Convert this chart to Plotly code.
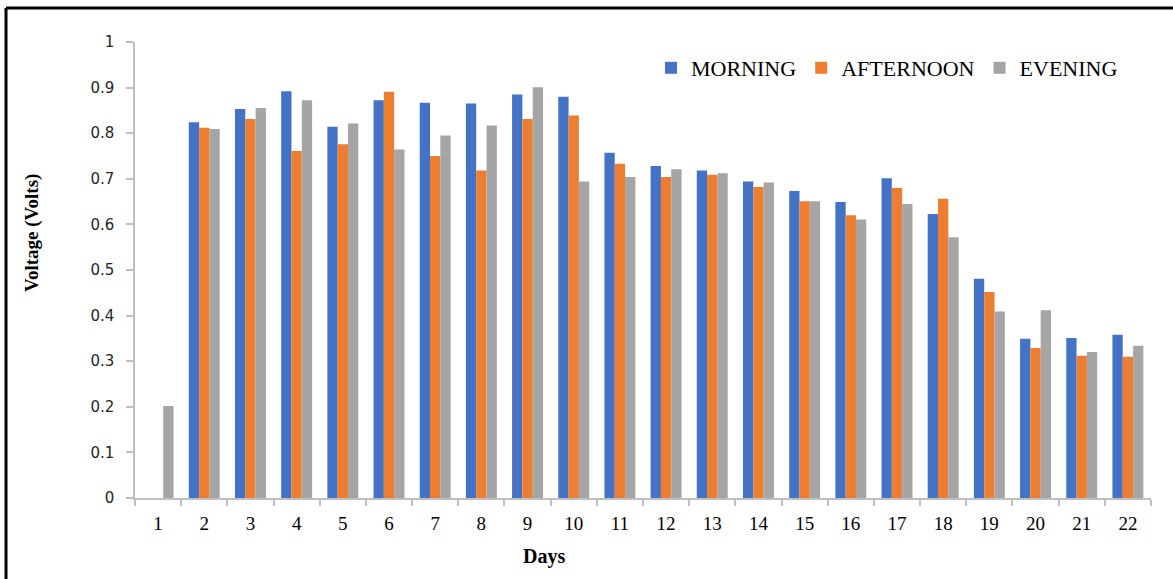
import plotly.graph_objects as go

# Daily output voltage readings, three times per day
days = [str(d) for d in range(1, 23)]
morning = [0, 0.824, 0.853, 0.892, 0.814, 0.872, 0.867, 0.865, 0.885, 0.880, 0.757,
           0.728, 0.718, 0.694, 0.673, 0.649, 0.701, 0.623, 0.481, 0.349, 0.351, 0.358]
afternoon = [0, 0.812, 0.831, 0.761, 0.776, 0.891, 0.750, 0.718, 0.831, 0.839, 0.733,
             0.704, 0.709, 0.682, 0.651, 0.620, 0.680, 0.656, 0.452, 0.329, 0.312, 0.310]
evening = [0.202, 0.809, 0.855, 0.872, 0.821, 0.764, 0.795, 0.817, 0.901, 0.694, 0.704,
           0.721, 0.712, 0.692, 0.651, 0.611, 0.645, 0.572, 0.409, 0.412, 0.320, 0.334]

series = [
    ("MORNING", morning, "#4472C4"),
    ("AFTERNOON", afternoon, "#ED7D31"),
    ("EVENING", evening, "#A5A5A5"),
]

SERIF = "'Liberation Serif', 'Times New Roman', Times, serif"
SANS = "'DejaVu Sans', Verdana, sans-serif"

W, H = 1173, 579
ML, MR, MT, MB = 135, 22, 42, 81
pw, ph = W - ML - MR, H - MT - MB

fig = go.Figure()
for name, vals, col in series:
    fig.add_trace(go.Bar(x=days, y=vals, name=name, marker_color=col,
                         marker_line_width=0))

axis_col = "#BFBFBF"
fig.update_layout(
    width=W, height=H,
    margin=dict(l=ML, r=MR, t=MT, b=MB),
    paper_bgcolor="white", plot_bgcolor="white",
    barmode="group", bargap=0.33, bargroupgap=0,
    showlegend=True,
    legend=dict(orientation="h", x=(651 - ML) / pw, xanchor="left",
                y=(MT + ph - 68) / ph, yanchor="middle",
                font=dict(family=SERIF, size=22, color="#000000"),
                bgcolor="rgba(0,0,0,0)", traceorder="normal"),
    font=dict(family=SERIF, color="#000000"),
)
fig.update_xaxes(
    type="category", showline=True, linecolor=axis_col, linewidth=1.5,
    ticks="outside", tickson="boundaries", ticklen=6, tickcolor=axis_col,
    tickwidth=1.5, showgrid=False, zeroline=False,
    tickfont=dict(family=SERIF, size=19, color="#000000"),
    ticklabelstandoff=7,
)
fig.update_yaxes(
    range=[0, 1], dtick=0.1, showline=True, linecolor=axis_col, linewidth=1.5,
    ticks="outside", ticklen=7, tickcolor=axis_col, tickwidth=1.5,
    showgrid=False, zeroline=False,
    tickfont=dict(family=SANS, size=15, color="#262626"),
    ticklabelstandoff=9,
)

# Axis titles
fig.add_annotation(text="<b>Days</b>", xref="paper", yref="paper",
                   x=(544 - ML) / pw, y=(MT + ph - 556) / ph,
                   xanchor="center", yanchor="middle", showarrow=False,
                   font=dict(family=SERIF, size=20, color="#000000"))
fig.add_annotation(text="<b>Voltage (Volts)</b>", xref="paper", yref="paper",
                   x=(32 - ML) / pw, y=(MT + ph - 233) / ph, textangle=-90,
                   xanchor="center", yanchor="middle", showarrow=False,
                   font=dict(family=SERIF, size=19, color="#000000"))

# Outer frame (left and top edges)
fx0 = (6 - ML) / pw
fy1 = (MT + ph - 8) / ph
fig.add_shape(type="line", xref="paper", yref="paper", x0=fx0, x1=fx0,
              y0=-0.3, y1=fy1, line=dict(color="black", width=3))
fig.add_shape(type="line", xref="paper", yref="paper", x0=fx0, x1=1.1,
              y0=fy1, y1=fy1, line=dict(color="black", width=3))

fig.write_html("out.html")
